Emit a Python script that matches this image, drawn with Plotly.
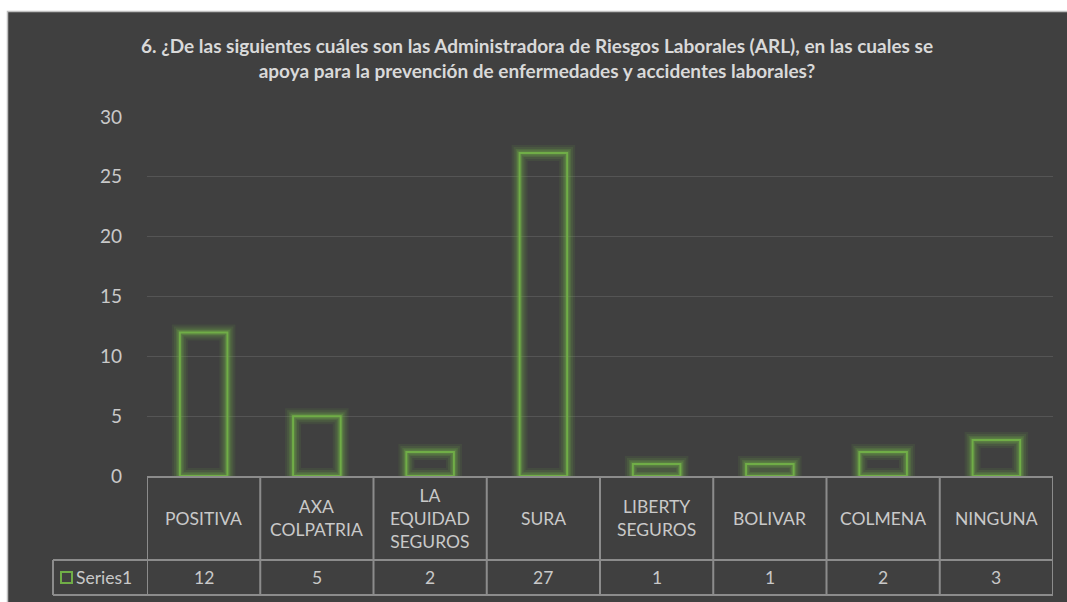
import plotly.graph_objects as go

categories = ["POSITIVA", "AXA<br>COLPATRIA", "LA<br>EQUIDAD<br>SEGUROS", "SURA",
              "LIBERTY<br>SEGUROS", "BOLIVAR", "COLMENA", "NINGUNA"]
values = [12, 5, 2, 27, 1, 1, 2, 3]
series_name = "Series1"
y_ticks = [0, 5, 10, 15, 20, 25, 30]
title = ("<b>6. ¿De las siguientes cuáles son las Administradora de Riesgos Laborales (ARL), en las cuales se<br>"
         "apoya para la prevención de enfermedades y accidentes laborales?</b>")

W, H = 1067, 602
L, R, T, B = 147, 1053, 117, 476
pw, ph = R - L, B - T

def px_x(p):
    return (p - L) / pw

def px_y(p):
    return (B - p) / ph

BG = "#404040"
GREEN = "#70ad47"
LINE = "#8c8c8c"
TXT = "#c9c9c9"
TITLE = "#d9d9d9"
FONT = "Lato"

x = list(range(len(categories)))

fig = go.Figure()
# glow
for w, a in [(16, 0.10), (12, 0.14), (8, 0.2), (5, 0.3)]:
    fig.add_trace(go.Bar(x=x, y=values, width=0.42, marker=dict(color="rgba(0,0,0,0)",
                  line=dict(color=f"rgba(112,173,71,{a})", width=w)), hoverinfo="skip", showlegend=False))
fig.add_trace(go.Bar(x=x, y=values, width=0.42, name=series_name,
                     marker=dict(color="rgba(0,0,0,0)", line=dict(color=GREEN, width=2)), showlegend=False))

shapes = []
shapes.append(dict(type="rect", xref="paper", yref="paper", x0=px_x(7.5), x1=px_x(1075), y0=px_y(11.5), y1=px_y(610),
                   fillcolor=BG, line=dict(color="#bfbfbf", width=1.5), layer="below"))

row1 = px_y(560)
row2 = px_y(595)
leg_left = px_x(53)
for i in range(len(categories) + 1):
    shapes.append(dict(type="line", xref="x", yref="paper", x0=i - 0.5, x1=i - 0.5, y0=0, y1=row2,
                       line=dict(color=LINE, width=2)))
shapes.append(dict(type="line", xref="paper", yref="paper", x0=leg_left, x1=leg_left, y0=row1, y1=row2,
                   line=dict(color=LINE, width=2)))
for yy in (row1, row2):
    shapes.append(dict(type="line", xref="paper", yref="paper", x0=leg_left, x1=1, y0=yy, y1=yy,
                       line=dict(color=LINE, width=2)))
shapes.append(dict(type="rect", xref="paper", yref="paper", x0=px_x(61), x1=px_x(72), y0=px_y(583), y1=px_y(572),
                   line=dict(color=GREEN, width=2), fillcolor="rgba(0,0,0,0)"))

annotations = []
for i, (c, v) in enumerate(zip(categories, values)):
    annotations.append(dict(x=i, y=(0 + row1) / 2, xref="x", yref="paper", text=c, showarrow=False,
                            font=dict(family=FONT, size=17.5, color=TXT), align="center", yanchor="middle"))
    annotations.append(dict(x=i, y=(row1 + row2) / 2, xref="x", yref="paper", text=str(v), showarrow=False,
                            font=dict(family=FONT, size=17.5, color=TXT), yanchor="middle"))
annotations.append(dict(x=px_x(74), y=(row1 + row2) / 2, xref="paper", yref="paper", text=series_name,
                        showarrow=False, xanchor="left", yanchor="middle",
                        font=dict(family=FONT, size=17.5, color=TXT)))
annotations.append(dict(x=px_x(537), y=px_y(58), xref="paper", yref="paper", text=title, showarrow=False,
                        xanchor="center", yanchor="middle", align="center",
                        font=dict(family=FONT, size=19, color=TITLE)))

fig.update_layout(
    width=W, height=H,
    margin=dict(l=L, r=W - R, t=T, b=H - B, pad=0),
    paper_bgcolor="white", plot_bgcolor="rgba(0,0,0,0)",
    barmode="overlay",
    shapes=shapes, annotations=annotations,
    xaxis=dict(range=[-0.5, len(categories) - 0.5], showticklabels=False, showgrid=False, zeroline=False,
               showline=True, linecolor=LINE, linewidth=2, ticks=""),
    yaxis=dict(range=[0, 30], tickvals=y_ticks, showgrid=True, gridcolor="#555555", gridwidth=1,
               zeroline=False, showline=False, ticks="", ticklabelstandoff=24,
               tickfont=dict(family=FONT, size=19, color=TXT)),
    showlegend=False,
)

fig.write_html("out.html", post_script="document.body.style.margin='0';",
               config={"displayModeBar": False})
